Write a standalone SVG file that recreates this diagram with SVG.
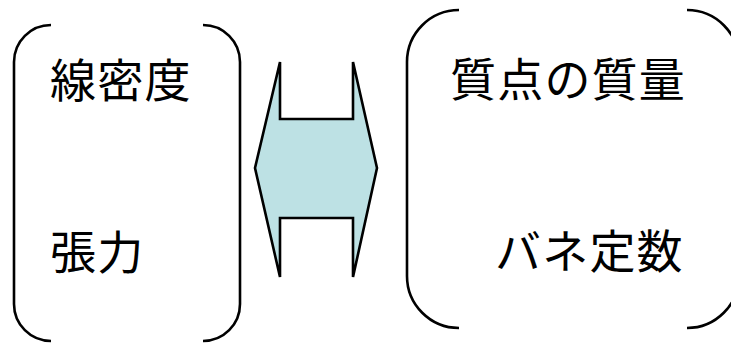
<svg xmlns="http://www.w3.org/2000/svg" width="731" height="343" viewBox="0 0 731 343">
<style>
.br{fill:none;stroke:#000;stroke-width:2.6;stroke-linecap:butt}
.t{font-family:"Noto Sans CJK JP","Noto Sans CJK SC",sans-serif;font-size:46px;fill:#000;letter-spacing:1.2px}
.arr{fill:#BDE1E4;stroke:#000;stroke-width:2.6;stroke-linejoin:miter}
</style>
<rect width="731" height="343" fill="#fff"/>
<g id="left-group">
<path class="br" d="M51,25 A37,37 0 0 0 14,62 L14,304 A37,37 0 0 0 51,341"/>
<path class="br" d="M203,25 A37,37 0 0 1 240,62 L240,304 A37,37 0 0 1 203,341"/>
<text class="t" x="50" y="97">線密度</text>
<text class="t" x="50" y="269">張力</text>
</g>
<g id="connectors">
<polygon class="arr" points="280,62 280,119 353,119 353,62 377,168 353,277 353,218 280,218 280,277 255,168"/>
</g>
<g id="right-group">
<path class="br" d="M459,10 A52,52 0 0 0 407,62 L407,276 A52,52 0 0 0 459,328"/>
<path class="br" d="M687,10 A52,52 0 0 1 739,62 L739,276 A52,52 0 0 1 687,328"/>
<text class="t" x="450" y="96">質点の質量</text>
<text class="t" x="495" y="268">バネ定数</text>
</g>
</svg>
